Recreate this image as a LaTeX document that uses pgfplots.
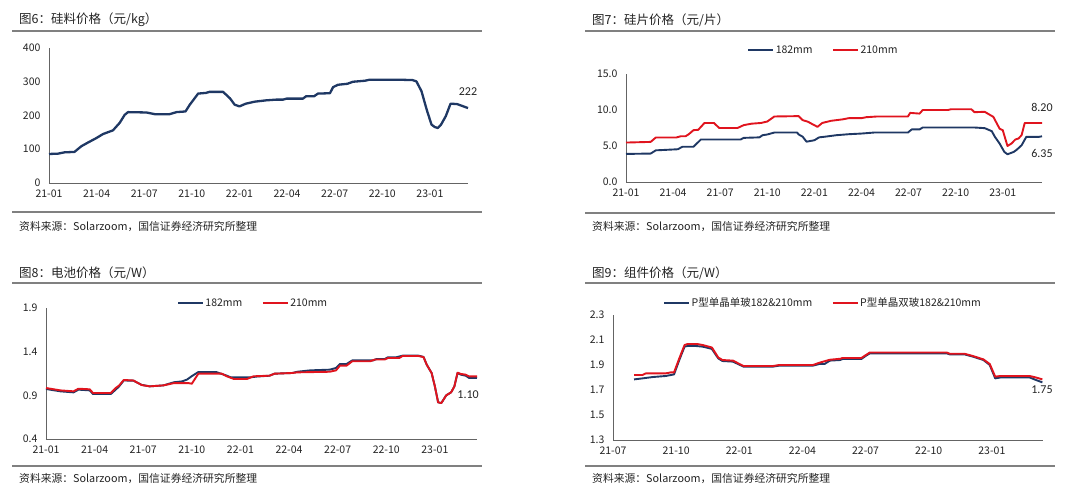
\documentclass[border=0pt]{standalone}
\usepackage{pgfplots}
\pgfplotsset{compat=1.18}
\usepackage{fontspec}
\setmainfont{Noto Sans CJK SC}
\newfontfamily\calfont{Carlito}
\definecolor{navy}{RGB}{31,56,100}
\definecolor{myred}{RGB}{224,20,30}
\definecolor{sepc}{RGB}{128,128,128}
\definecolor{axc}{RGB}{100,100,100}
\definecolor{txt}{RGB}{35,35,35}

\pgfplotsset{panel/.style={
  scale only axis,
  axis x line*=bottom, axis y line*=left,
  axis line style={-,draw=axc,line width=0.9pt},
  major tick length=0pt,
  tick label style={font=\fontsize{10.5}{12}\selectfont, text=txt},
  xticklabel style={yshift=-3pt},
  yticklabel style={xshift=-5pt},
  /pgf/number format/assume math mode=true,
  clip=false,
  xtick={0,3,...,24},
  xticklabels={21-01,21-04,21-07,21-10,22-01,22-04,22-07,22-10,23-01},
  every axis plot/.append style={line width=1.9pt, line join=round},
  legend style={draw=none, fill=none, font=\fontsize{10.5}{12}\selectfont, text=txt, legend columns=2,
    nodes={inner xsep=1.5pt},
    /tikz/every even column/.append style={column sep=18pt}},
  legend image code/.code={\draw[##1,line width=1.9pt] (0pt,0pt)--(25pt,0pt);},
}}

\begin{document}
\begin{tikzpicture}
\path[use as bounding box] (0pt,0pt) rectangle (1080pt,-491pt);

% titles, separators, sources
\foreach \xx/\yy/\tt in {19/-20/{图6：硅料价格（元/kg）},592/-20/{图7：硅片价格（元/片）},19/-273/{图8：电池价格（元/W）},592/-273/{图9：组件价格（元/W）}}{
  \node[anchor=west, inner sep=0pt, font=\fontsize{12.5}{14}\selectfont, text=txt] at (\xx pt,\yy pt) {\tt};
}
\foreach \xx/\yy in {19/-226,592/-226,19/-478,592/-478}{
  \node[anchor=west, inner sep=0pt, font=\fontsize{10.8}{12}\selectfont, text=txt] at (\xx pt,\yy pt) {资料来源：Solarzoom，国信证券经济研究所整理};
}
\draw[sepc, line width=1.3pt] (12pt,-31pt)--(482pt,-31pt);
\draw[sepc, line width=1.3pt] (585pt,-31pt)--(1055pt,-31pt);
\draw[sepc, line width=1.3pt] (12pt,-212pt)--(482pt,-212pt);
\draw[sepc, line width=1.3pt] (585pt,-213pt)--(1055pt,-213pt);
\draw[sepc, line width=1.3pt] (12pt,-283pt)--(482pt,-283pt);
\draw[sepc, line width=1.3pt] (585pt,-283pt)--(1055pt,-283pt);
\draw[sepc, line width=1.3pt] (12pt,-466pt)--(482pt,-466pt);
\draw[sepc, line width=1.3pt] (585pt,-466pt)--(1055pt,-466pt);

% Panel 1
\begin{axis}[panel, at={(49pt,-183pt)}, anchor=south west, width=419pt, height=135pt,
  xmin=0, xmax=26.4, ymin=0, ymax=400, ytick={0,100,200,300,400}]
\addplot[navy, line width=2.3pt] coordinates {(0,86)(0.57,87)(1.0,91)(1.6,92)(2.04,109)(2.46,120)(2.98,133)(3.4,145)(4.03,156)(4.45,178)(4.77,202)(4.98,210)(6.13,209)(6.66,204)(7.6,204)(8.03,210)(8.6,212)(8.87,232)(9.4,265)(9.9,267)(10.1,270)(10.97,270)(11.4,251)(11.7,232)(12.0,227)(12.4,235)(12.96,241)(13.7,245)(14.3,247)(14.75,247)(14.96,250)(16.0,250)(16.2,257)(16.7,257)(16.95,265)(17.7,266)(17.9,284)(18.2,291)(18.8,294)(19.15,300)(19.9,303)(20.2,306)(22.1,306)(22.9,305)(23.15,301)(23.47,272)(23.8,217)(24.1,173)(24.3,166)(24.5,163)(24.7,173)(25.0,198)(25.3,235)(25.7,234)(26.0,229)(26.4,222)};
\node[font=\calfont\fontsize{12}{13}\selectfont, text=txt] at (axis cs:26.4,270) {222};
\end{axis}

% Panel 2
\begin{axis}[panel, at={(626pt,-182pt)}, anchor=south west, width=416pt, height=108pt,
  xmin=0, xmax=26.5, ymin=0, ymax=15, ytick={0,5,10,15},
  yticklabel style={/pgf/number format/.cd, fixed, fixed zerofill, precision=1},
  legend style={at={(0.474,1.222)}, anchor=center}]
\addplot[navy] coordinates {(0,3.9)(1.57,3.95)(1.9,4.4)(2.4,4.45)(3.3,4.55)(3.6,4.9)(4.3,4.9)(4.77,5.9)(7.3,5.9)(7.5,6.13)(8.5,6.2)(8.7,6.5)(9.0,6.6)(9.45,6.87)(10.9,6.87)(11.0,6.6)(11.25,6.3)(11.5,5.6)(12.0,5.8)(12.3,6.2)(12.7,6.3)(13.4,6.5)(14.2,6.64)(15.0,6.73)(15.8,6.87)(17.96,6.87)(18.2,7.3)(18.7,7.3)(18.9,7.57)(22.2,7.57)(22.85,7.48)(23.3,7.06)(23.5,6.27)(23.8,5.34)(24.1,4.18)(24.3,3.85)(24.7,4.18)(24.9,4.5)(25.2,5.1)(25.5,6.27)(26.3,6.27)(26.5,6.35)};
\addlegendentry{182mm}
\addplot[myred] coordinates {(0,5.48)(1.57,5.57)(1.9,6.18)(3.2,6.18)(3.5,6.36)(3.8,6.36)(4.0,6.64)(4.3,7.2)(4.6,7.25)(5.0,8.2)(5.6,8.2)(5.94,7.5)(7.1,7.5)(7.5,7.9)(8.0,8.1)(8.6,8.2)(9.0,8.4)(9.45,9.1)(11.0,9.15)(11.25,8.6)(11.6,8.36)(11.9,8.0)(12.2,7.66)(12.5,8.2)(13.06,8.5)(13.8,8.7)(14.2,8.87)(15.0,8.87)(15.3,9.0)(16.0,9.1)(17.96,9.1)(18.1,9.6)(18.7,9.5)(18.9,10.0)(20.5,10.0)(20.7,10.1)(22.0,10.1)(22.2,9.7)(22.85,9.75)(23.2,9.3)(23.4,9.05)(23.8,7.4)(24.0,7.2)(24.3,5.0)(24.55,5.34)(24.8,5.9)(25.0,6.04)(25.2,6.5)(25.4,8.2)(26.5,8.2)};
\addlegendentry{210mm}
\node[font=\calfont\fontsize{12}{13}\selectfont, text=txt] at (axis cs:26.5,10.4) {8.20};
\node[font=\calfont\fontsize{12}{13}\selectfont, text=txt] at (axis cs:26.5,3.9) {6.35};
\end{axis}

% Panel 3
\begin{axis}[panel, at={(46pt,-439pt)}, anchor=south west, width=431pt, height=131pt,
  xmin=0, xmax=26.6, ymin=0.4, ymax=1.9, ytick={0.4,0.9,1.4,1.9},
  yticklabel style={/pgf/number format/.cd, fixed, fixed zerofill, precision=1},
  legend style={at={(0.48,1.038)}, anchor=center}]
\addplot[navy] coordinates {(0,0.973)(0.88,0.946)(1.7,0.934)(2.0,0.965)(2.7,0.957)(2.9,0.915)(4.0,0.915)(4.3,0.965)(4.5,1.0)(4.8,1.07)(5.4,1.068)(5.9,1.02)(6.4,1.003)(7.25,1.014)(7.9,1.05)(8.4,1.06)(8.7,1.08)(9.0,1.12)(9.4,1.167)(10.5,1.167)(11.16,1.125)(11.4,1.106)(12.6,1.106)(13.0,1.115)(13.8,1.125)(14.1,1.148)(15.2,1.156)(15.5,1.17)(16.3,1.186)(17.5,1.194)(17.9,1.213)(18.14,1.259)(18.55,1.259)(18.9,1.3)(20.2,1.3)(20.4,1.316)(20.9,1.316)(21.1,1.335)(21.6,1.335)(22.0,1.354)(23.0,1.354)(23.3,1.34)(23.5,1.25)(23.8,1.155)(24.0,1.003)(24.2,0.82)(24.4,0.812)(24.7,0.9)(25.0,0.934)(25.2,1.0)(25.4,1.155)(25.6,1.137)(25.9,1.125)(26.1,1.1)(26.6,1.098)};
\addlegendentry{182mm}
\addplot[myred] coordinates {(0,0.984)(0.88,0.957)(1.7,0.946)(2.0,0.976)(2.7,0.969)(2.9,0.927)(4.0,0.927)(4.3,0.984)(4.5,1.01)(4.8,1.076)(5.4,1.07)(5.9,1.018)(6.4,1.003)(7.25,1.014)(7.9,1.04)(8.8,1.04)(9.0,1.033)(9.4,1.148)(10.85,1.148)(11.16,1.118)(11.6,1.087)(12.4,1.087)(12.8,1.118)(13.8,1.125)(14.1,1.148)(15.2,1.156)(15.5,1.163)(17.5,1.17)(17.9,1.186)(18.14,1.24)(18.55,1.24)(18.9,1.29)(20.0,1.29)(20.3,1.31)(20.9,1.31)(21.1,1.327)(21.8,1.327)(22.0,1.35)(23.0,1.35)(23.3,1.338)(23.5,1.25)(23.8,1.155)(24.0,1.003)(24.2,0.82)(24.4,0.812)(24.7,0.9)(25.0,0.934)(25.2,1.0)(25.4,1.16)(25.6,1.145)(25.9,1.137)(26.1,1.118)(26.6,1.118)};
\addlegendentry{210mm}
\node[font=\calfont\fontsize{12}{13}\selectfont, text=txt] at (axis cs:26.05,0.904) {1.10};
\end{axis}

% Panel 4
\begin{axis}[panel, at={(613pt,-440pt)}, anchor=south west, width=430pt, height=125pt,
  xmin=6, xmax=26.43, ymin=1.3, ymax=2.3, ytick={1.3,1.5,1.7,1.9,2.1,2.3},
  xtick={6,9,...,24},
  xticklabels={21-07,21-10,22-01,22-04,22-07,22-10,23-01},
  yticklabel style={/pgf/number format/.cd, fixed, fixed zerofill, precision=1},
  legend style={at={(0.488,1.096)}, anchor=center}]
\addplot[navy] coordinates {(7.0,1.785)(7.4,1.793)(7.9,1.804)(8.5,1.812)(8.75,1.82)(8.9,1.825)(9.15,1.94)(9.4,2.047)(9.54,2.052)(9.94,2.052)(10.26,2.047)(10.6,2.033)(10.7,2.028)(11.0,1.953)(11.2,1.932)(11.7,1.927)(12.2,1.887)(13.6,1.887)(13.9,1.895)(15.5,1.895)(15.8,1.908)(16.05,1.908)(16.3,1.935)(16.8,1.94)(16.9,1.948)(17.8,1.948)(18.0,1.972)(18.2,1.993)(21.86,1.993)(22.0,1.985)(22.7,1.985)(23.1,1.967)(23.6,1.94)(23.9,1.9)(24.16,1.793)(24.4,1.8)(25.8,1.8)(26.1,1.78)(26.4,1.761)};
\addlegendentry{P型单晶单玻182\&210mm}
\addplot[myred] coordinates {(7.0,1.82)(7.4,1.82)(7.56,1.833)(8.5,1.833)(8.75,1.841)(8.9,1.841)(9.15,1.953)(9.4,2.06)(9.54,2.068)(10.0,2.068)(10.26,2.06)(10.7,2.04)(11.0,1.96)(11.2,1.94)(11.7,1.935)(12.2,1.892)(13.6,1.892)(13.9,1.9)(15.5,1.9)(15.8,1.918)(16.3,1.942)(16.8,1.95)(16.9,1.956)(17.8,1.956)(18.2,2.0)(21.86,2.0)(22.0,1.99)(22.7,1.99)(23.1,1.972)(23.6,1.945)(23.9,1.908)(24.16,1.807)(24.4,1.812)(25.8,1.812)(26.1,1.8)(26.4,1.785)};
\addlegendentry{P型单晶双玻182\&210mm}
\node[font=\calfont\fontsize{12}{13}\selectfont, text=txt] at (axis cs:26.38,1.70) {1.75};
\end{axis}
\end{tikzpicture}
\end{document}
